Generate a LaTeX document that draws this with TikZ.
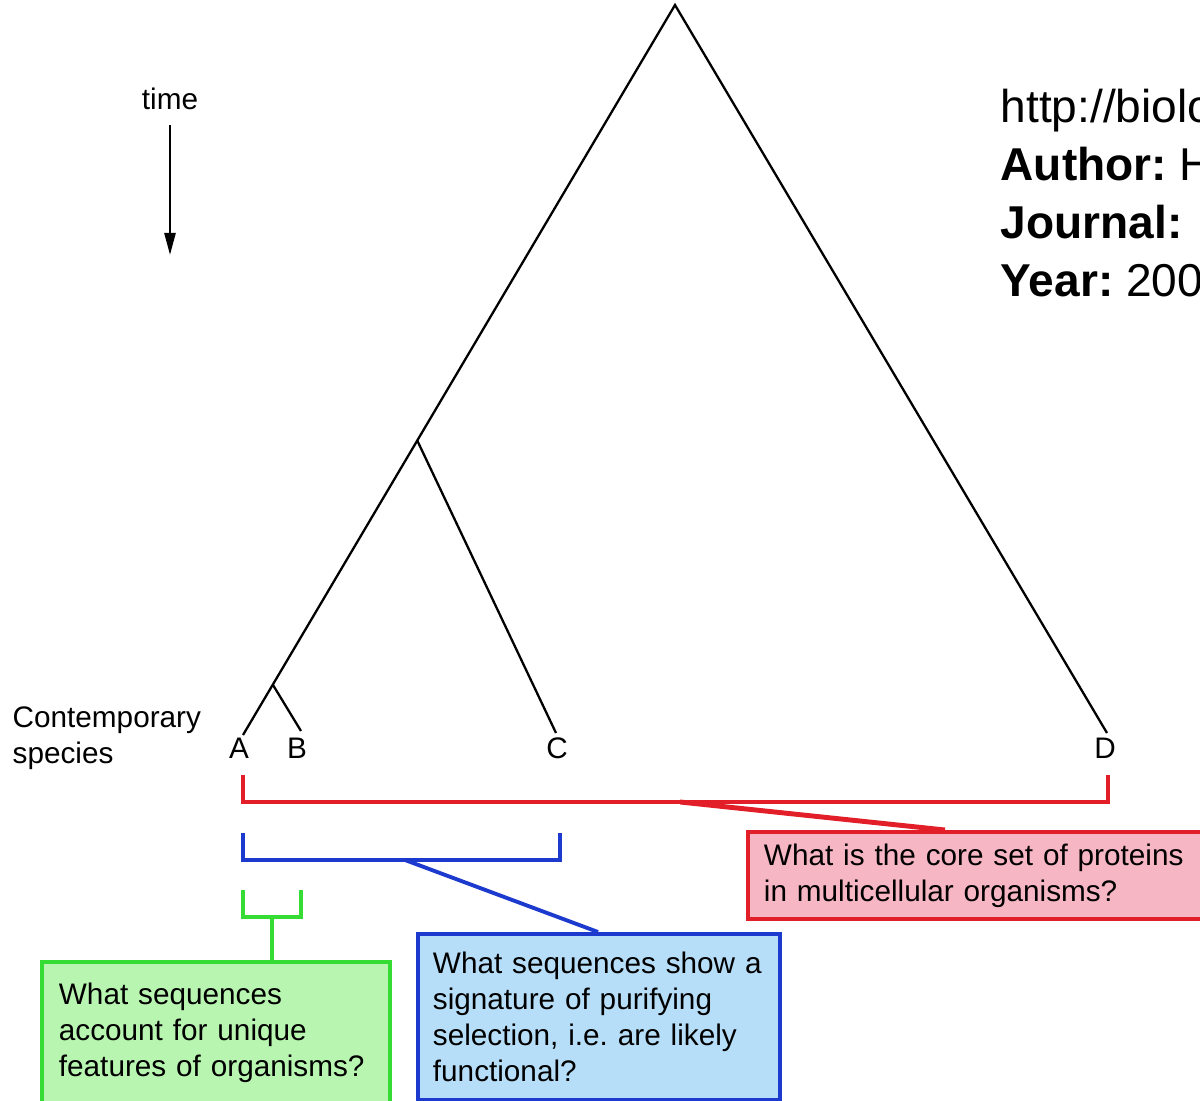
\documentclass[tikz,border=0pt]{standalone}
\usepackage{fontspec}
\setmainfont{Liberation Sans}
\usetikzlibrary{arrows.meta,calc}
\definecolor{qred}{RGB}{226,30,40}
\definecolor{qpink}{RGB}{247,182,196}
\definecolor{qblue}{RGB}{28,58,205}
\definecolor{qlblue}{RGB}{182,222,248}
\definecolor{qgreen}{RGB}{52,220,52}
\definecolor{qlgreen}{RGB}{184,245,176}
\frenchspacing
\begin{document}
\begin{tikzpicture}[
  x=0.01cm, y=-0.01cm,
  lab/.style={font=\fontsize{8.45}{10.25}\selectfont, inner sep=0pt},
  branch/.style={line width=0.65pt, black},
  brk/.style={line width=1.1pt},
  qbox/.style={draw, line width=1.1pt, anchor=north west, align=left, font=\fontsize{8.45}{10.25}\selectfont},
  src/.style={font=\fontsize{13.1}{16}\selectfont, anchor=base west, inner sep=0pt},
]
  \useasboundingbox (0,0) rectangle (1200,1101);
  \clip (0,0) rectangle (1200,1101);

  % Tree
  \coordinate (root) at (675,5);
  \coordinate (tA) at (243,735);
  \coordinate (tB) at (301,731);
  \coordinate (tC) at (556,733);
  \coordinate (tD) at (1107,733);
  \coordinate (nAC) at (417,440);
  \coordinate (nAB) at (273,685);
  \draw[branch] (tA) -- (root) -- (tD);
  \draw[branch] (nAC) -- (tC);
  \draw[branch] (nAB) -- (tB);

  % Species labels
  \node[lab] (A) at (239,748) {A};
  \node[lab] (B) at (297,748) {B};
  \node[lab] (C) at (557,748) {C};
  \node[lab] (D) at (1105,748) {D};
  \node[lab, anchor=west, align=left] (contemp) at (12,738) {Contemporary\\species};

  % Time arrow
  \node[lab] (tm) at (170,99) {time};
  \coordinate (tstart) at (170,125);
  \coordinate (tend) at (170,255);
  \draw[branch, line width=0.7pt, -{Triangle[length=0.22cm, width=0.11cm]}] (tstart) -- (tend);

  % Source text
  \node[src] (url) at (1000,123) {http://biolo};
  \node[src] (auth) at (1000,181) {\textbf{Author:} H};
  \node[src] (jour) at (1000,239) {\textbf{Journal:}};
  \node[src] (yr) at (1000,297) {\textbf{Year:} 200};

  % Brackets
  \draw[brk, qred] (243,775) -- (243,802) -- (1108,802) -- (1108,775);
  \draw[brk, qblue] (243,833) -- (243,860) -- (560,860) -- (560,833);
  \draw[brk, qgreen] (243,890) -- (243,917) -- (301,917) -- (301,890);
  \coordinate (rmid) at (680,802);
  \coordinate (bmid) at (405,860);
  \coordinate (gmid) at (272,917);

  % Question boxes
  \node[qbox, draw=qred, fill=qpink, text width=4.5cm, inner xsep=0.16cm, minimum height=0.87cm] (rbox) at (746,830)
    {What is the core set of proteins\\in multicellular organisms?};
  \node[qbox, draw=qblue, fill=qlblue, text width=3.4cm, inner xsep=0.11cm, inner ysep=0.18cm] (bbox) at (416,932)
    {\hspace*{0.04cm}What sequences show a\\\hspace*{0.04cm}signature of purifying\\\hspace*{0.04cm}selection, i.e. are likely\\\hspace*{0.04cm}functional?};
  \node[qbox, draw=qgreen, fill=qlgreen, text width=3.14cm, inner xsep=0.17cm, inner ysep=0.21cm] (gbox) at (40,960)
    {What sequences\\account for unique\\features of organisms?};

  % Connectors
  \draw[brk, qred, line width=1.4pt] (rmid) -- ($(rbox.north west)+(199,0)$);
  \draw[brk, qblue] (bmid) -- ($(bbox.north west)+(182,0)$);
  \draw[brk, qgreen] (gmid) -- (gbox.north -| gmid);
\end{tikzpicture}
\end{document}
